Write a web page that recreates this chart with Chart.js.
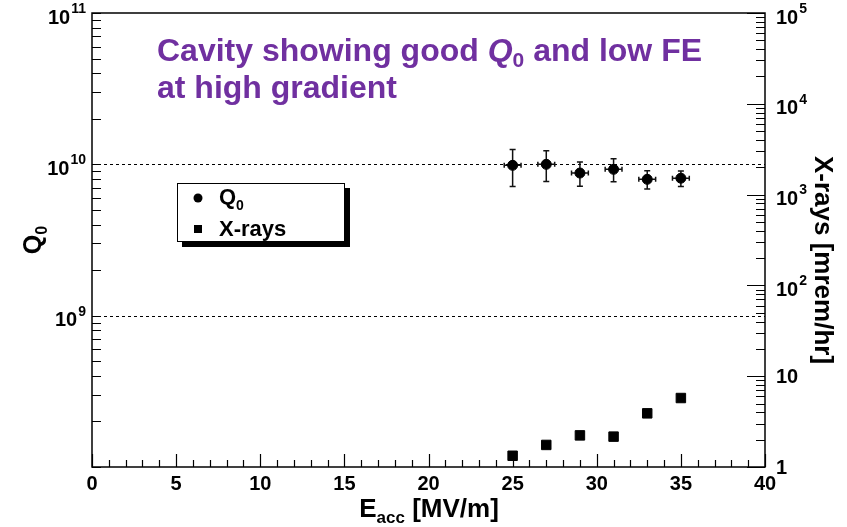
<!DOCTYPE html>
<html>
<head>
<meta charset="utf-8">
<script src="https://cdn.jsdelivr.net/npm/chart.js@4.4.0/dist/chart.umd.min.js"></script>
<style>
  body { margin: 0; background: #ffffff; }
  canvas { display: block; }
</style>
</head>
<body>
<canvas id="myChart" width="847" height="527"></canvas>
<script>
// values
const gradient = [25, 27, 29, 31, 33, 35];          // E_acc [MV/m]
const gradientErr = [0.5, 0.5, 0.5, 0.5, 0.5, 0.5];
const q0Values = [0.985e10, 1.0e10, 0.876e10, 0.927e10, 0.796e10, 0.81e10];
const q0Err = [0.27e10, 0.23e10, 0.16e10, 0.16e10, 0.11e10, 0.095e10];
const xrayValues = [1.33, 1.75, 2.23, 2.16, 3.9, 5.75]; // mrem/hr

const xTickLabels = [0, 5, 10, 15, 20, 25, 30, 35, 40];
const q0Labels = [[1e9, '9'], [1e10, '10'], [1e11, '11']];
const xrayLabels = [[1, ''], [10, ''], [100, '2'], [1e3, '3'], [1e4, '4'], [1e5, '5']];
const q0Grid = [1e9, 1e10];

const FONT = '"Liberation Sans", Arial, Helvetica, sans-serif';
const PURPLE = '#7030a0';

const drawPow = (ctx, base, exp, x, y, align) => {
    ctx.font = 'bold 20px ' + FONT;
    const bw = ctx.measureText(base).width;
    ctx.font = 'bold 14px ' + FONT;
    const ew = exp ? ctx.measureText(exp).width + 1 : 0;
    const left = align === 'right' ? x - bw - ew : x;
    ctx.textAlign = 'left';
    ctx.textBaseline = 'middle';
    ctx.font = 'bold 20px ' + FONT;
    ctx.fillText(base, left, exp ? y + 5 : y + 1);
    if (exp) {
        ctx.font = 'bold 14px ' + FONT;
        ctx.fillText(exp, left + bw + 1, y - 4);
    }
};

const logTicks = (min, max) => {
    const out = [];
    for (let d = min; d < max; d *= 10) {
        for (let m = 1; m < 10; m++) out.push([d * m, m === 1]);
    }
    out.push([max, true]);
    return out;
};

const rootStyle = {
    id: 'rootStyle',
    beforeDatasetsDraw(chart) {
        const { ctx, chartArea: a, scales } = chart;
        ctx.save();
        // dashed grid lines on the Q0 axis
        ctx.strokeStyle = '#000';
        ctx.lineWidth = 1;
        ctx.setLineDash([3, 3]);
        q0Grid.forEach(v => {
            const y = Math.round(scales.y.getPixelForValue(v)) + 0.5;
            ctx.beginPath();
            ctx.moveTo(a.left, y);
            ctx.lineTo(a.right, y);
            ctx.stroke();
        });
        ctx.setLineDash([]);
        // error bars
        ctx.strokeStyle = '#111';
        ctx.lineWidth = 1.5;
        gradient.forEach((g, i) => {
            const x = scales.x.getPixelForValue(g);
            const y = scales.y.getPixelForValue(q0Values[i]);
            const yT = scales.y.getPixelForValue(q0Values[i] + q0Err[i]);
            const yB = scales.y.getPixelForValue(q0Values[i] - q0Err[i]);
            const xL = scales.x.getPixelForValue(g - gradientErr[i]);
            const xR = scales.x.getPixelForValue(g + gradientErr[i]);
            ctx.beginPath();
            ctx.moveTo(x, yT); ctx.lineTo(x, yB);
            ctx.moveTo(x - 3, yT); ctx.lineTo(x + 3, yT);
            ctx.moveTo(x - 3, yB); ctx.lineTo(x + 3, yB);
            ctx.moveTo(xL, y); ctx.lineTo(xR, y);
            ctx.moveTo(xL, y - 2.5); ctx.lineTo(xL, y + 2.5);
            ctx.moveTo(xR, y - 2.5); ctx.lineTo(xR, y + 2.5);
            ctx.stroke();
        });
        ctx.restore();
    },
    afterDraw(chart) {
        const { ctx, chartArea: a, scales } = chart;
        ctx.save();
        ctx.strokeStyle = '#000';
        ctx.fillStyle = '#000';
        ctx.lineWidth = 1.2;

        // ticks, all pointing inside the frame
        ctx.beginPath();
        for (let v = 0; v <= 40; v++) {
            const x = Math.round(scales.x.getPixelForValue(v)) + 0.5;
            const len = v % 5 === 0 ? 13 : 7;
            ctx.moveTo(x, a.bottom); ctx.lineTo(x, a.bottom - len);
        }
        logTicks(1e8, 1e11).forEach(([v]) => {
            const y = Math.round(scales.y.getPixelForValue(v)) + 0.5;
            ctx.moveTo(a.left, y); ctx.lineTo(a.left + 9, y);
        });
        logTicks(1, 1e5).forEach(([v, major]) => {
            const y = Math.round(scales.y2.getPixelForValue(v)) + 0.5;
            ctx.moveTo(a.right, y); ctx.lineTo(a.right - (major ? 18 : 9), y);
        });
        ctx.stroke();

        // frame
        ctx.lineWidth = 1.5;
        ctx.strokeRect(a.left, a.top, a.right - a.left, a.bottom - a.top);

        // tick labels
        ctx.font = 'bold 20px ' + FONT;
        ctx.textAlign = 'center';
        ctx.textBaseline = 'top';
        xTickLabels.forEach(v => {
            ctx.fillText(String(v), scales.x.getPixelForValue(v), a.bottom + 7);
        });
        q0Labels.forEach(([v, e]) => drawPow(ctx, '10', e, a.left - 6, scales.y.getPixelForValue(v), 'right'));
        xrayLabels.forEach(([v, e]) => {
            const base = v === 1 ? '1' : '10';
            drawPow(ctx, base, e, a.right + 11, scales.y2.getPixelForValue(v), 'left');
        });

        // axis titles
        ctx.save();
        ctx.translate(34, 240);
        ctx.rotate(-Math.PI / 2);
        ctx.textBaseline = 'alphabetic';
        ctx.textAlign = 'left';
        ctx.font = 'bold 25px ' + FONT;
        const qw = ctx.measureText('Q').width;
        ctx.font = 'bold 16px ' + FONT;
        const zw = ctx.measureText('0').width;
        const q0x = -(qw + zw) / 2;
        ctx.font = 'bold 25px ' + FONT;
        ctx.fillText('Q', q0x, 7);
        ctx.font = 'bold 16px ' + FONT;
        ctx.fillText('0', q0x + qw, 13);
        ctx.restore();

        ctx.save();
        ctx.translate(822, 260);
        ctx.rotate(Math.PI / 2);
        ctx.font = 'bold 26px ' + FONT;
        ctx.textAlign = 'center';
        ctx.textBaseline = 'middle';
        ctx.fillText('X-rays [mrem/hr]', 0, 0);
        ctx.restore();

        ctx.textAlign = 'left';
        ctx.textBaseline = 'alphabetic';
        ctx.font = 'bold 26px ' + FONT;
        const ew = ctx.measureText('E').width;
        const rest = ' [MV/m]';
        const rw = ctx.measureText(rest).width;
        ctx.font = 'bold 17px ' + FONT;
        const aw = ctx.measureText('acc').width;
        let ex = 429 - (ew + aw + rw) / 2;
        ctx.font = 'bold 26px ' + FONT;
        ctx.fillText('E', ex, 517);
        ctx.font = 'bold 17px ' + FONT;
        ctx.fillText('acc', ex + ew, 523);
        ctx.font = 'bold 26px ' + FONT;
        ctx.fillText(rest, ex + ew + aw, 517);

        // legend with drop shadow
        ctx.fillStyle = '#000';
        ctx.fillRect(182, 188, 168, 59);
        ctx.fillStyle = '#fff';
        ctx.fillRect(177, 183, 168, 59);
        ctx.lineWidth = 1;
        ctx.strokeRect(177.5, 183.5, 167, 58);
        ctx.fillStyle = '#000';
        ctx.beginPath();
        ctx.arc(198, 198, 4.5, 0, Math.PI * 2);
        ctx.fill();
        ctx.fillRect(194, 225, 8, 8);
        ctx.font = 'bold 22px ' + FONT;
        ctx.fillText('Q', 219, 204);
        const lq = ctx.measureText('Q').width;
        ctx.font = 'bold 14px ' + FONT;
        ctx.fillText('0', 219 + lq, 210);
        ctx.font = 'bold 22px ' + FONT;
        ctx.fillText('X-rays', 219, 236);

        // purple title
        ctx.fillStyle = PURPLE;
        let tx = 157;
        const seg = (txt, font, dy) => {
            ctx.font = font;
            ctx.fillText(txt, tx, 61 + (dy || 0));
            tx += ctx.measureText(txt).width;
        };
        seg('Cavity showing good ', 'bold 32px ' + FONT);
        seg('Q', 'bold italic 32px ' + FONT);
        seg('0', 'bold 21px ' + FONT, 6);
        seg(' and low FE', 'bold 32px ' + FONT);
        ctx.font = 'bold 32px ' + FONT;
        ctx.fillText('at high gradient', 157, 98);
        ctx.restore();
    }
};

const renderChart = () => {
    const ctx = document.getElementById('myChart').getContext('2d');
    const q0Points = gradient.map((g, i) => ({ x: g, y: q0Values[i] }));
    const xrayPoints = gradient.map((g, i) => ({ x: g, y: xrayValues[i] }));
    const hidden = { display: false };
    new Chart(ctx, {
        type: 'scatter',
        data: {
            datasets: [{
                label: 'Q0',
                data: q0Points,
                yAxisID: 'y',
                pointStyle: 'circle',
                pointRadius: 5,
                backgroundColor: '#000',
                borderColor: '#000'
            }, {
                label: 'X-rays',
                data: xrayPoints,
                yAxisID: 'y2',
                pointStyle: 'rect',
                pointRadius: 6.7,
                backgroundColor: '#000',
                borderColor: '#000'
            }]
        },
        options: {
            responsive: false,
            animation: false,
            layout: { padding: { top: 13, left: 0, right: 0, bottom: 0 } },
            plugins: { legend: hidden, tooltip: { enabled: false } },
            scales: {
                x: {
                    type: 'linear', min: 0, max: 40,
                    grid: hidden, ticks: hidden, border: hidden,
                    afterFit: s => { s.height = 60; }
                },
                y: {
                    type: 'logarithmic', position: 'left', min: 1e8, max: 1e11,
                    grid: hidden, ticks: hidden, border: hidden,
                    afterFit: s => { s.width = 92; }
                },
                y2: {
                    type: 'logarithmic', position: 'right', min: 1, max: 1e5,
                    grid: hidden, ticks: hidden, border: hidden,
                    afterFit: s => { s.width = 82; }
                }
            }
        },
        plugins: [rootStyle]
    });
};

document.addEventListener('DOMContentLoaded', renderChart);
</script>
</body>
</html>
